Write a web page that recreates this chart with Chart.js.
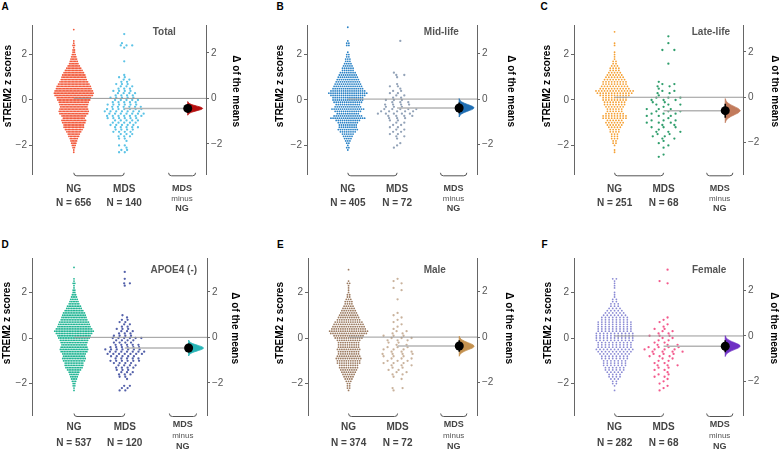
<!DOCTYPE html>
<html>
<head>
<meta charset="utf-8">
<script src="https://cdn.jsdelivr.net/npm/chart.js@4.4.1/dist/chart.umd.min.js"></script>
<style>
    html, body { margin: 0; padding: 0; background: #fff; width: 779px; height: 450px; overflow: hidden; position: relative; }
    canvas { position: absolute; }
    .tag { position: absolute; font: bold 10px "Liberation Sans", Arial, sans-serif; line-height: 10px; color: #000; }
</style>
</head>
<body>
<div id="page"></div>
<script>
// ---- data ----
const panelTags = ['A', 'B', 'C', 'D', 'E', 'F'];
const panelTitles = ['Total', 'Mid-life', 'Late-life', 'APOE4 (-)', 'Male', 'Female'];
const groupNames = ['NG', 'MDS'];
const ngN = [656, 405, 251, 537, 374, 282];
const mdsN = [140, 72, 68, 120, 72, 68];
const yTicks = [-2, 0, 2];
const binStep = 0.1;

// point counts per 0.1-wide sTREM2 row, bottom to top
const ngStart = [-2.3, -2.2, -2.3, -2.3, -2.3, -2.3];
const ngRows = [
    [1,1,2,3,4,5,6,8,9,11, 13,15,15,17,18,16,18,21,22,21, 20,21,22,24,25,28,29,28,26,25, 23,21,19,18,17,15,13,11,9,7, 6,5,4,3,2,2,1,2,1,1, 0,0,0,0,1],
    [1,2,1,2,3,4,5,6,8,10, 9,9,10,12,17,14,11,13,16,13, 12,14,15,15,17,19,17,15,14,13, 12,11,10,9,8,6,6,5,4,3, 3,2,2,1,0,0,2,2,1,0, 0,0,0,0,1],
    [1,1,0,1,2,2,3,3,3,4, 4,5,6,7,6,9,9,7,6,6, 7,8,8,9,9,11,13,14,11,10, 9,9,8,7,6,5,4,4,3,2, 2,1,1,1,1,0,0,1,1,0, 0,0,0,1],
    [1,1,2,2,3,4,5,6,7,9, 11,12,12,14,15,14,15,17,18,17, 16,17,18,20,21,23,25,23,21,20, 19,17,16,15,14,12,10,9,7,6, 5,4,3,2,2,1,1,2,1,1, 0,0,0,0,1],
    [1,2,2,2,3,4,5,6,7,8, 9,9,11,11,12,11,10,10,11,10, 10,10,11,13,14,17,18,16,15,14, 13,11,10,9,8,7,6,5,4,4, 3,2,2,1,1,1,1,2,1,0, 0,0,0,1],
    [1,0,1,2,2,3,4,4,5,6, 6,7,7,7,8,8,9,10,11,10, 10,10,11,11,11,11,10,10,10,10, 10,8,8,7,6,5,4,3,3,2, 2,1,1,1,0,1,1,1,1,2]
];
const mdsStart = [-2.3, -2.1, -2.5, -2.3, -2.3, -2.3];
const mdsRows = [
    [2,2,1,2,0,1,2,3,3,4, 4,5,5,5,5,6,7,7,7,7, 6,6,5,5,5,4,4,4,3,3, 3,2,2,2,1,0,0,0,0,0, 1,0,0,0,0,0,1,3,1,0, 0,0,1],
    [1,1,1,0,1,2,2,2,2,2, 2,2,2,3,4,5,5,5,3,4, 3,3,2,2,2,2,1,2,1,0, 0,1,2,1,0,0,0,0,0,0, 0,0,0,0,0,0,0,1],
    [1,1,0,0,1,1,1,1,2,2, 2,3,1,3,2,3,3,1,3,3, 3,3,1,3,2,3,3,1,2,2, 1,2,2,1,0,0,0,0,0,0, 0,1,0,0,0,0,0,2,0,0, 1,0,0,1],
    [2,2,2,0,0,1,2,3,3,3, 4,4,4,6,5,5,7,7,7,6, 5,4,4,6,4,3,3,3,2,2, 2,2,1,1,0,0,0,0,0,0, 0,0,0,0,0,0,1,2,0,1, 0,0,1],
    [1,2,0,0,0,1,1,2,2,2, 2,3,3,3,3,3,4,3,3,3, 2,2,3,3,3,2,2,1,1,1, 1,1,1,1,1,0,0,0,0,0, 1,0,0,0,1,1,0,1,1,1],
    [1,1,1,1,1,1,2,2,1,2, 2,3,2,2,2,3,3,4,4,4, 3,2,2,2,3,2,2,2,1,1, 1,1,1,0,0,0,0,0,0,0, 0,0,0,0,0,0,0,1,1,0, 0,0,0,1]
];

const ngMeans = [0.07, 0.04, 0.12, 0.03, 0.04, 0.09];
const mdsMeans = [-0.37, -0.35, -0.47, -0.44, -0.35, -0.36];
// bootstrap distribution of the difference (Δ of the means units)
const ciLow = [-0.62, -0.62, -0.90, -0.67, -0.64, -0.71];
const ciHigh = [-0.26, -0.15, -0.29, -0.27, -0.14, -0.19];
const bootLow = [-0.74, -0.79, -1.12, -0.82, -0.84, -0.90];
const bootHigh = [-0.14, 0.02, -0.06, -0.12, 0.04, 0.01];
const violinProfile = [0, 0.05, 0.15, 0.35, 0.62, 0.88, 1, 0.88, 0.62, 0.35, 0.15, 0.05, 0];

const ngColors = ['#f25a3c', '#2b83c6', '#f5a033', '#22b594', '#9b7a60', '#8a8ad4'];
const mdsColors = ['#5cc3e6', '#93a3b8', '#2f9e6c', '#5461aa', '#c9b29c', '#f35a8d'];
const diffColors = ['#b50e0e', '#1f6eb3', '#c27b5c', '#26b4b6', '#c4914e', '#6e2fc4'];

// ---- layout ----
const FONT = '"Liberation Sans", Arial, sans-serif';
const ngX = 2.4, mdsX = 5.3, diffX = 8.95, xMax = 10;
const swarmWidthPx = 40;
const violinWidthPx = 15;
const panelBoxes = [
    { left: 2, right: 242, axisL: 32, axisR: 206, titleL: 8.5, titleR: 235.5, titleX: 7.6, tagX: 1.5 },
    { left: 274, right: 517, axisL: 307, axisR: 477, titleL: 280, titleR: 510.5, titleX: 7.9, tagX: 276.5 },
    { left: 541, right: 781, axisL: 574, axisR: 743, titleL: 547.5, titleR: 774.5, titleX: 8.1, tagX: 540.5 },
    { left: 1, right: 241, axisL: 32, axisR: 207, titleL: 7.5, titleR: 235, titleX: 8.1, tagX: 1.5 },
    { left: 275, right: 514, axisL: 308, axisR: 477, titleL: 280.5, titleR: 508.5, titleX: 7.5, tagX: 277 },
    { left: 542, right: 780, axisL: 574, axisR: 743, titleL: 548.5, titleR: 774, titleX: 8.0, tagX: 541.5 }
];
const rowBoxes = [
    { top: 0, height: 225, plotTop: 25, plotBottom: 174.3, yMin: -3.27, yMax: 3.30, tagTop: 1.8, labelDy: [15, 29, 14, 24.5, 34.5] },
    { top: 225, height: 225, plotTop: 258.3, plotBottom: 415, yMin: -3.38, yMax: 3.50, tagTop: 240.3, labelDy: [12, 28, 10, 21, 31.5] }
];

function buildSwarm(start, counts, centerX, unitsPerPx) {
    const maxCount = Math.max(...counts);
    const spacingPx = Math.min(swarmWidthPx / maxCount, 12);
    const sparse = spacingPx > 4;
    const points = [];
    counts.forEach((n, i) => {
        const y = +(start + i * binStep).toFixed(2);
        const shift = sparse ? ((i % 3) - 1) * spacingPx * 0.4 : 0;
        for (let k = 0; k < n; k++) {
            const offset = (k - (n - 1) / 2) * spacingPx + shift;
            points.push({ x: centerX + offset * unitsPerPx, y });
        }
    });
    return points;
}

const panelText = {
    id: 'panelText',
    afterDraw(chart, args, o) {
        const { ctx, chartArea: a, scales: { x, y } } = chart;
        const bottom = a.bottom;
        ctx.save();
        ctx.textAlign = 'center';
        ctx.textBaseline = 'middle';

        ctx.fillStyle = '#555';
        ctx.font = `bold 10px ${FONT}`;
        ctx.fillText(o.title, x.getPixelForValue(o.titleX), y.getPixelForValue(2.97));

        // group labels
        const dy = o.labelDy;
        ctx.fillStyle = '#444';
        ctx.fillText(groupNames[0], x.getPixelForValue(ngX), bottom + dy[0]);
        ctx.fillText(groupNames[1], x.getPixelForValue(mdsX), bottom + dy[0]);
        ctx.fillText(`N = ${o.nNg}`, x.getPixelForValue(ngX), bottom + dy[1]);
        ctx.fillText(`N = ${o.nMds}`, x.getPixelForValue(mdsX), bottom + dy[1]);
        const dx = x.getPixelForValue(8.62);
        ctx.font = `bold 9px ${FONT}`;
        ctx.fillText(groupNames[1], dx, bottom + dy[2]);
        ctx.fillText(groupNames[0], dx, bottom + dy[4]);
        ctx.font = `8px ${FONT}`;
        ctx.fillStyle = '#555';
        ctx.fillText('minus', dx, bottom + dy[3]);

        // brackets
        ctx.strokeStyle = '#555';
        ctx.lineWidth = 1;
        const bracket = (x1, x2) => {
            const yb = bottom + 1.5;
            ctx.beginPath();
            ctx.moveTo(x1, yb - 3);
            ctx.quadraticCurveTo(x1, yb, x1 + 3, yb);
            ctx.lineTo(x2 - 3, yb);
            ctx.quadraticCurveTo(x2, yb, x2, yb - 3);
            ctx.stroke();
        };
        bracket(x.getPixelForValue(ngX), x.getPixelForValue(mdsX));
        bracket(x.getPixelForValue(7.85), x.getPixelForValue(9.4));

        // axis titles
        ctx.fillStyle = '#000';
        ctx.font = `bold 10px ${FONT}`;
        const mid = (a.top + a.bottom) / 2;
        ctx.save();
        ctx.translate(o.titleL, mid - 13.5);
        ctx.rotate(-Math.PI / 2);
        ctx.fillText('sTREM2 z scores', 0, 0);
        ctx.restore();
        ctx.save();
        ctx.translate(o.titleR, mid - 8.5);
        ctx.rotate(Math.PI / 2);
        ctx.fillText('\u0394 of the means', 0, 0);
        ctx.restore();
        ctx.restore();
    }
};

const page = document.getElementById('page');

panelTags.forEach((tag, i) => {
    const box = panelBoxes[i];
    const row = rowBoxes[i < 3 ? 0 : 1];
    const width = box.right - box.left;
    const plotW = box.axisR - box.axisL;
    const unitsPerPx = xMax / plotW;

    const tagDiv = document.createElement('div');
    tagDiv.className = 'tag';
    tagDiv.textContent = tag;
    tagDiv.style.left = box.tagX + 'px';
    tagDiv.style.top = row.tagTop + 'px';
    page.appendChild(tagDiv);

    const canvas = document.createElement('canvas');
    canvas.width = width;
    canvas.height = row.height;
    canvas.style.left = box.left + 'px';
    canvas.style.top = row.top + 'px';
    page.appendChild(canvas);

    const diff = mdsMeans[i] - ngMeans[i];
    const violin = violinProfile.map((w, j) => ({
        x: diffX + w * violinWidthPx * unitsPerPx,
        y: bootLow[i] + (bootHigh[i] - bootLow[i]) * j / (violinProfile.length - 1)
    }));
    violin.push({ x: diffX, y: bootLow[i] });

    const tickStyle = {
        color: '#555',
        font: { size: 10, family: FONT },
        padding: 2,
        callback: (v) => String(v).replace('-', '\u2212')
    };
    const gridStyle = { drawOnChartArea: false, drawTicks: true, tickLength: 3, color: '#666' };

    new Chart(canvas, {
        type: 'scatter',
        data: {
            datasets: [
                { data: [{ x: diffX, y: diff }], yAxisID: 'y2', pointRadius: 4.5, backgroundColor: '#000', borderWidth: 0, order: 0 },
                { data: [{ x: diffX, y: ciLow[i] }, { x: diffX, y: ciHigh[i] }], yAxisID: 'y2', showLine: true, borderColor: '#000', borderWidth: 1.6, pointRadius: 0, order: 1 },
                { data: violin, yAxisID: 'y2', showLine: true, fill: 'shape', tension: 0.2, backgroundColor: diffColors[i], borderColor: diffColors[i], borderWidth: 0.8, pointRadius: 0, order: 2 },
                { data: [{ x: mdsX, y: mdsMeans[i] }, { x: diffX, y: mdsMeans[i] }], showLine: true, borderColor: '#b4b4b4', borderWidth: 1.5, pointRadius: 0, order: 3 },
                { data: [{ x: ngX, y: ngMeans[i] }, { x: xMax, y: ngMeans[i] }], showLine: true, borderColor: '#999', borderWidth: 1, pointRadius: 0, order: 4 },
                { data: buildSwarm(mdsStart[i], mdsRows[i], mdsX, unitsPerPx), pointRadius: 1.15, backgroundColor: mdsColors[i], borderWidth: 0, order: 5 },
                { data: buildSwarm(ngStart[i], ngRows[i], ngX, unitsPerPx), pointRadius: 0.9, backgroundColor: ngColors[i], borderWidth: 0, order: 6 }
            ]
        },
        options: {
            responsive: false,
            animation: false,
            events: [],
            layout: { padding: { top: row.plotTop - row.top, bottom: row.top + row.height - row.plotBottom, left: 0, right: 0 } },
            plugins: {
                legend: { display: false },
                tooltip: { enabled: false },
                panelText: {
                    title: panelTitles[i],
                    titleX: box.titleX,
                    nNg: ngN[i],
                    nMds: mdsN[i],
                    labelDy: row.labelDy,
                    titleL: box.titleL - box.left,
                    titleR: box.titleR - box.left
                }
            },
            scales: {
                x: { type: 'linear', min: 0, max: xMax, display: false },
                y: {
                    position: 'left',
                    min: row.yMin,
                    max: row.yMax,
                    afterBuildTicks: (s) => { s.ticks = yTicks.map((v) => ({ value: v })); },
                    afterFit: (s) => { s.width = box.axisL - box.left; },
                    ticks: tickStyle,
                    grid: gridStyle,
                    border: { display: true, color: '#666' }
                },
                y2: {
                    position: 'right',
                    min: row.yMin - ngMeans[i],
                    max: row.yMax - ngMeans[i],
                    afterBuildTicks: (s) => { s.ticks = yTicks.map((v) => ({ value: v })); },
                    afterFit: (s) => { s.width = box.right - box.axisR; },
                    ticks: tickStyle,
                    grid: gridStyle,
                    border: { display: true, color: '#666' }
                }
            }
        },
        plugins: [panelText]
    });
});
</script>
</body>
</html>
